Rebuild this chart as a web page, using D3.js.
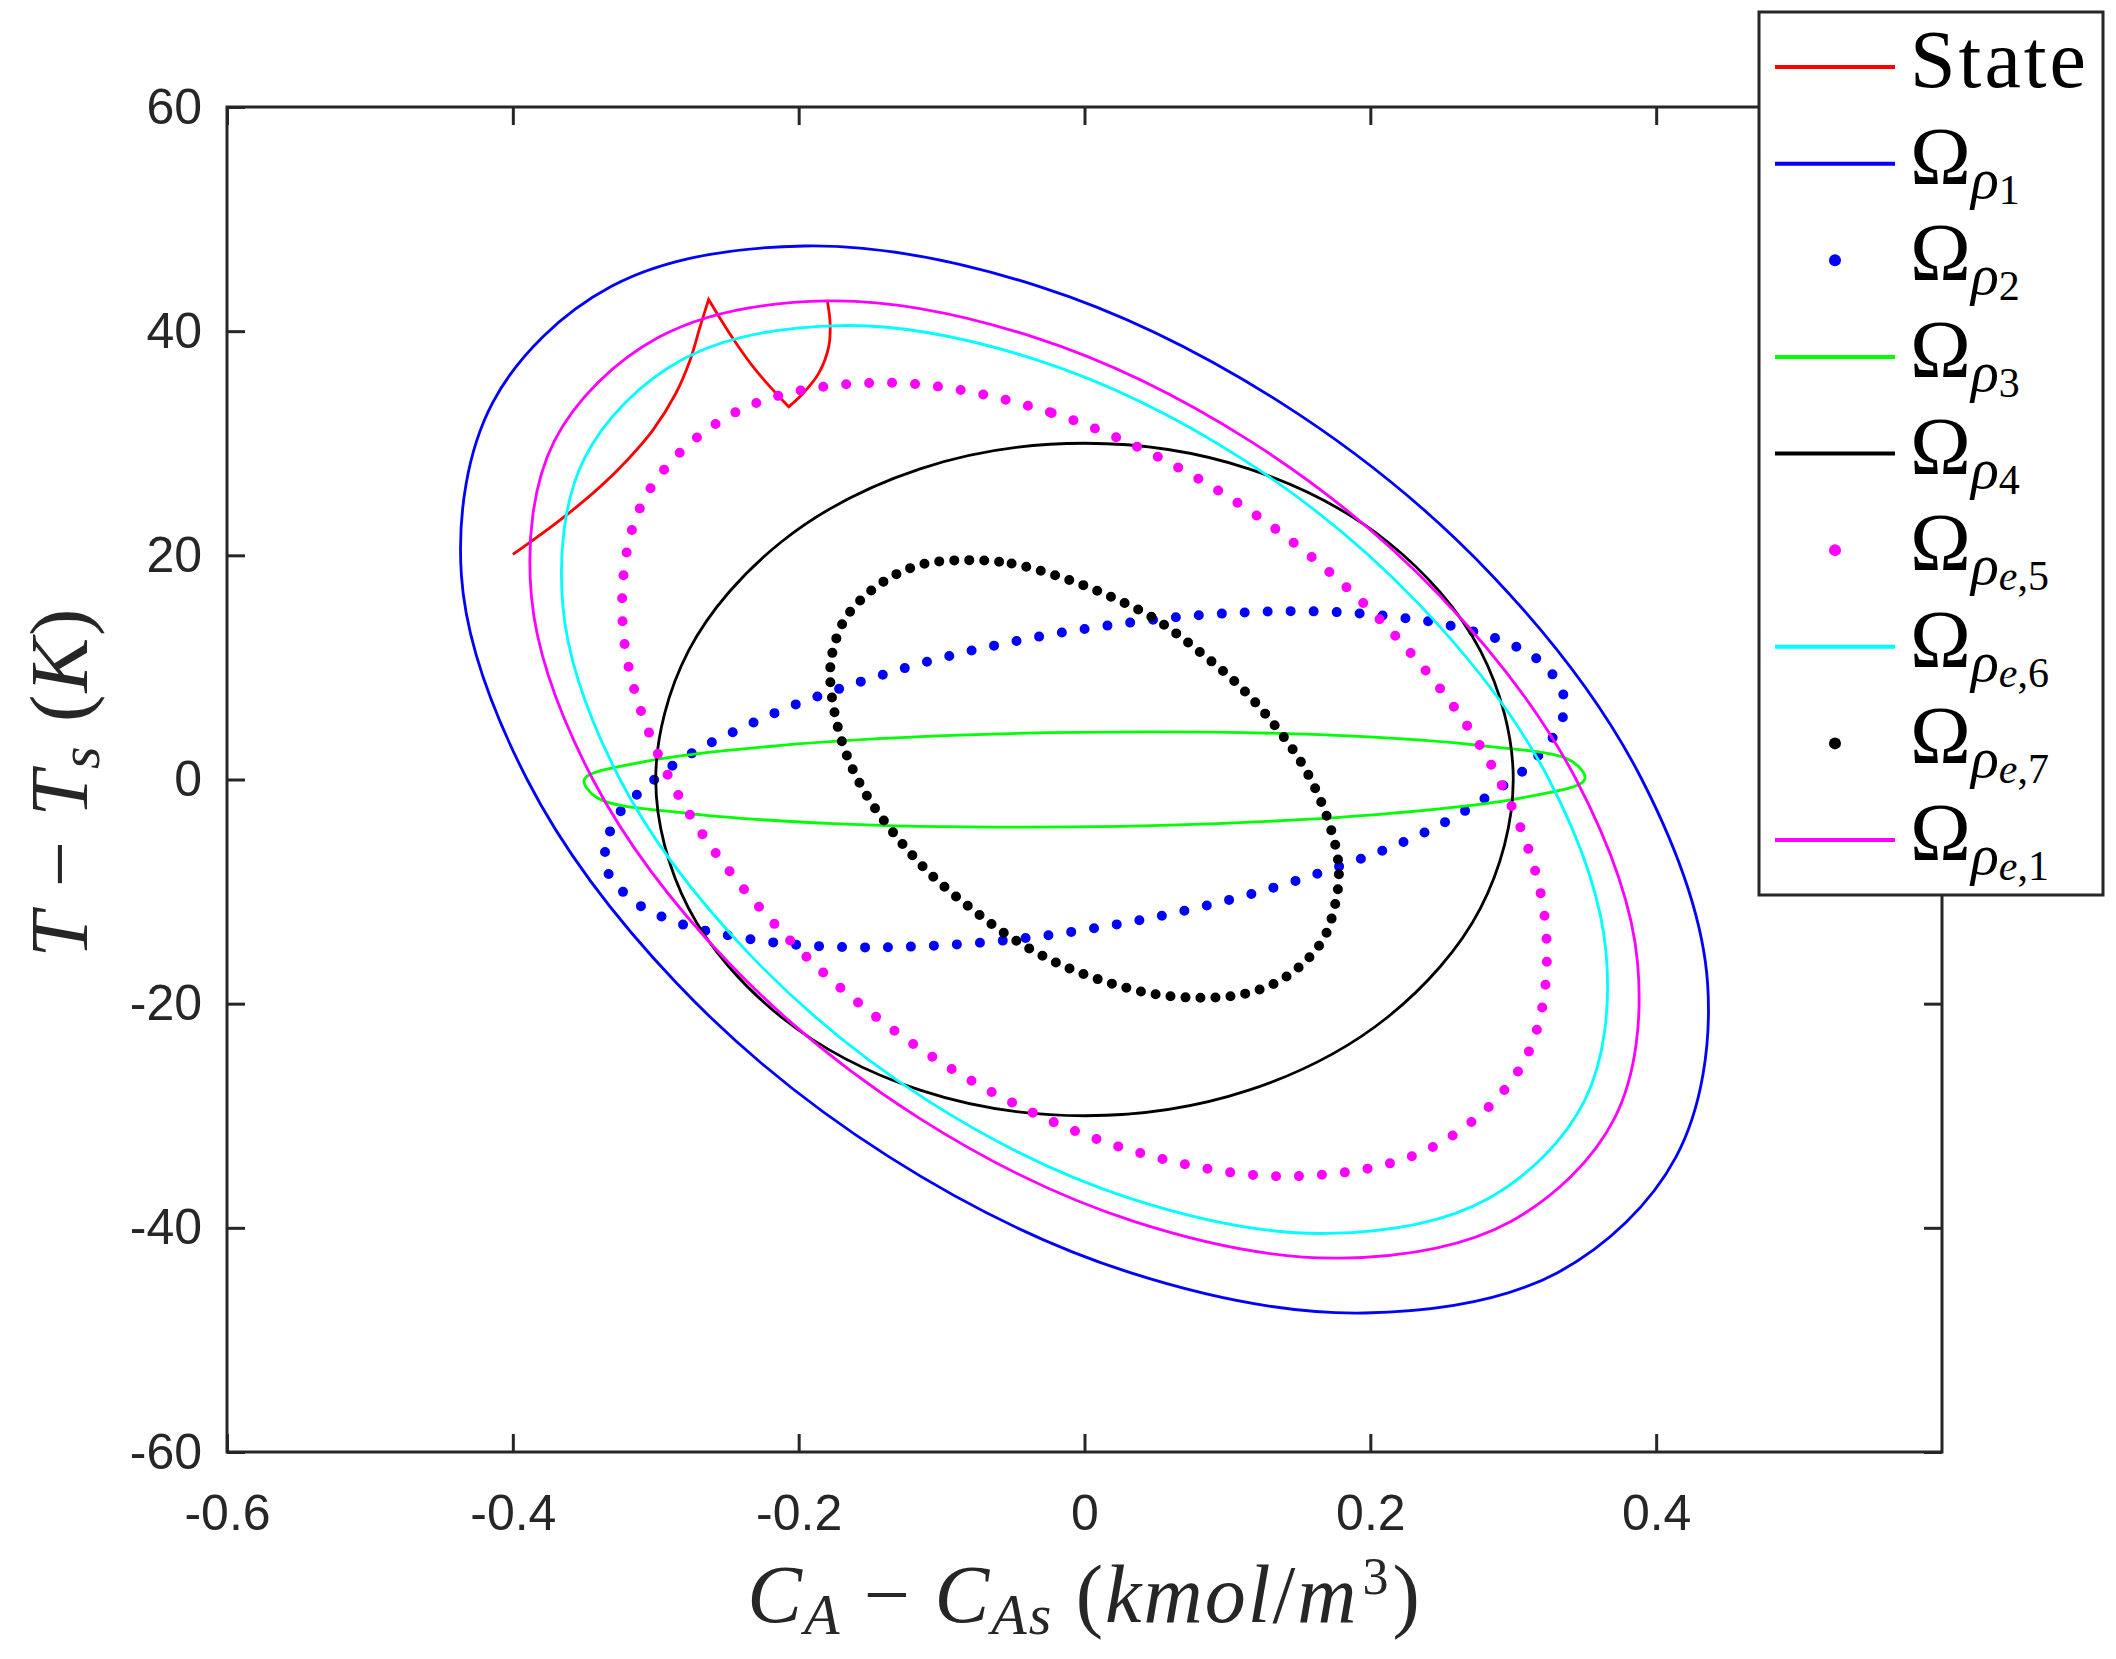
<!DOCTYPE html>
<html>
<head>
<meta charset="utf-8">
<script src="https://cdn.jsdelivr.net/npm/d3@7"></script>
<style>
  body { margin: 0; background: #fff; }
</style>
</head>
<body>
<script>
// Axis ticks
let xTicks = [-0.6, -0.4, -0.2, 0, 0.2, 0.4]
let xTickLabels = ["-0.6", "-0.4", "-0.2", "0", "0.2", "0.4"]
let yTicks = [-60, -40, -20, 0, 20, 40, 60]
let yTickLabels = ["-60", "-40", "-20", "0", "20", "40", "60"]

// State trajectory (C_A - C_As, T - T_s); the peak and the valley are repeated so they stay sharp
let stateTraj = [[-0.400, 20.08], [-0.367, 23.14], [-0.339, 26.11], [-0.320, 28.49], [-0.302, 31.17],
  [-0.286, 34.44], [-0.276, 37.41], [-0.269, 40.38], [-0.263, 42.83], [-0.263, 42.83], [-0.246, 39.35],
  [-0.230, 36.52], [-0.207, 33.25], [-0.207, 33.25], [-0.197, 34.44], [-0.186, 36.23], [-0.179, 38.60],
  [-0.178, 40.69], [-0.180, 42.77]]

// Level set boundaries
let omegaRho1 = [[-0.196, 47.6], [-0.032, 44.0], [0.137, 33.65], [0.285, 18.23], [0.390, 0], [0.436, -18.23],
  [0.414, -33.65], [0.331, -44.0], [0.196, -47.6], [0.032, -44.0], [-0.137, -33.65], [-0.285, -18.23],
  [-0.390, 0], [-0.436, 18.23], [-0.414, 33.65], [-0.331, 44.0]]

let omegaRho2 = [[-0.336, -7.13], [-0.332, -4.63], [-0.324, -2.73], [-0.309, -0.89], [-0.291, 0.99], [-0.268, 2.83],
  [-0.239, 4.64], [-0.208, 6.40], [-0.173, 8.03], [-0.136, 9.55], [-0.096, 10.98], [-0.056, 12.14],
  [-0.014, 13.15], [0.029, 13.95], [0.070, 14.55], [0.111, 14.90], [0.149, 15.02], [0.186, 14.87],
  [0.220, 14.46], [0.249, 13.92], [0.277, 13.03], [0.297, 12.14], [0.314, 11.01], [0.326, 9.61],
  [0.334, 7.97], [0.336, 6.49], [0.332, 4.64], [0.322, 2.83], [0.309, 0.99], [0.289, -0.89],
  [0.266, -2.82], [0.239, -4.66], [0.207, -6.42], [0.172, -8.02], [0.135, -9.54], [0.096, -10.91],
  [0.055, -12.13], [0.013, -13.14], [-0.030, -13.97], [-0.071, -14.54], [-0.112, -14.86], [-0.150, -14.98],
  [-0.187, -14.86], [-0.220, -14.50], [-0.250, -13.88], [-0.276, -13.14], [-0.298, -12.10], [-0.315, -10.91],
  [-0.327, -9.45], [-0.335, -7.93]]

let omegaRho3 = [[0.045, 4.25], [0.176, 3.93], [0.279, 3.00], [0.341, 1.63], [0.350, 0], [0.306, -1.63],
  [0.216, -3.00], [0.093, -3.93], [-0.045, -4.25], [-0.176, -3.93], [-0.279, -3.00], [-0.341, -1.63],
  [-0.350, 0], [-0.306, 1.63], [-0.216, 3.00], [-0.093, 3.93]]

let omegaRho4 = [[0, 30], [0.115, 27.72], [0.212, 21.21], [0.277, 11.49], [0.300, 0], [0.277, -11.49],
  [0.212, -21.21], [0.115, -27.72], [0, -30], [-0.115, -27.72], [-0.212, -21.21], [-0.277, -11.49],
  [-0.300, 0], [-0.277, 11.49], [-0.212, 21.21], [-0.115, 27.72]]

let omegaRhoE5 = [[-0.145, 35.4], [-0.023, 32.71], [0.103, 25.03], [0.212, 13.56], [0.290, 0], [0.323, -13.56],
  [0.308, -25.03], [0.245, -32.71], [0.145, -35.4], [0.023, -32.71], [-0.103, -25.03], [-0.212, -13.56],
  [-0.290, 0], [-0.323, 13.56], [-0.308, 25.03], [-0.245, 32.71]]

let omegaRhoE6 = [[-0.170, 40.5], [-0.033, 37.42], [0.110, 28.63], [0.235, 15.51], [0.325, 0], [0.365, -15.51],
  [0.350, -28.63], [0.282, -37.42], [0.170, -40.5], [0.033, -37.42], [-0.110, -28.63], [-0.235, -15.51],
  [-0.325, 0], [-0.365, 15.51], [-0.350, 28.63], [-0.282, 37.42]]

let omegaRhoE7 = [[-0.081, 19.57], [-0.051, 19.27], [-0.017, 18.08], [0.016, 16.45], [0.050, 14.28], [0.080, 11.45],
  [0.109, 8.27], [0.133, 4.85], [0.153, 1.23], [0.167, -2.43], [0.176, -6.15], [0.178, -8.38],
  [0.176, -10.76], [0.168, -14.03], [0.153, -16.41], [0.133, -18.19], [0.109, -19.20], [0.081, -19.47],
  [0.050, -19.17], [0.017, -18.13], [-0.017, -16.50], [-0.050, -14.21], [-0.080, -11.44], [-0.109, -8.29],
  [-0.133, -4.87], [-0.153, -1.30], [-0.167, 2.38], [-0.175, 6.04], [-0.178, 9.37], [-0.176, 11.54],
  [-0.168, 14.22], [-0.153, 16.45], [-0.133, 18.23], [-0.111, 19.27]]

let omegaRhoE1 = [[-0.180, 42.7], [-0.035, 39.45], [0.116, 30.19], [0.249, 16.35], [0.344, 0], [0.387, -16.35],
  [0.371, -30.19], [0.298, -39.45], [0.180, -42.7], [0.035, -39.45], [-0.116, -30.19], [-0.249, -16.35],
  [-0.344, 0], [-0.387, 16.35], [-0.371, 30.19], [-0.298, 39.45]]

// Legend subscripts (null = plain text label)
let legendSubs = [null, "1", "2", "3", "4", "e,5", "e,6", "e,7", "e,1"]

// Plot order matches legend order
let series = [
  { data: stateTraj, color: "#ff0000", closed: false, dotGap: 0 },
  { data: omegaRho1, color: "#0000ff", closed: true, dotGap: 0 },
  { data: omegaRho2, color: "#0000ff", closed: true, dotGap: 23 },
  { data: omegaRho3, color: "#00ff00", closed: true, dotGap: 0 },
  { data: omegaRho4, color: "#000000", closed: true, dotGap: 0 },
  { data: omegaRhoE5, color: "#ff00ff", closed: true, dotGap: 23 },
  { data: omegaRhoE6, color: "#00ffff", closed: true, dotGap: 0 },
  { data: omegaRhoE7, color: "#000000", closed: true, dotGap: 15 },
  { data: omegaRhoE1, color: "#ff00ff", closed: true, dotGap: 0 }
]

let width = 2116, height = 1659
let plotLeft = 227, plotRight = 1942, plotTop = 107, plotBottom = 1452
let ink = "#262626"
let serif = "Liberation Serif, DejaVu Serif, Times New Roman, serif"

let svg = d3.select("body").append("svg")
  .attr("width", width)
  .attr("height", height)

svg.append("rect").attr("width", width).attr("height", height).attr("fill", "#fff")

let x = d3.scaleLinear().domain([-0.6, 0.6]).range([plotLeft, plotRight])
let y = d3.scaleLinear().domain([-60, 60]).range([plotBottom, plotTop])

function styleAxis(g) {
  g.attr("font-family", "Liberation Sans, Arial, sans-serif").attr("font-size", 50)
  g.select(".domain").remove()
  g.selectAll("line").attr("stroke", ink).attr("stroke-width", 3)
  g.selectAll("text").attr("fill", ink)
}

// ticks point inward on all four sides
svg.append("g").attr("transform", `translate(0,${plotBottom})`)
  .call(d3.axisBottom(x).tickValues(xTicks).tickFormat((d, i) => xTickLabels[i]).tickSize(-18).tickPadding(42))
  .call(styleAxis)
svg.append("g").attr("transform", `translate(0,${plotTop})`)
  .call(d3.axisTop(x).tickValues(xTicks).tickFormat("").tickSize(-18))
  .call(styleAxis)
svg.append("g").attr("transform", `translate(${plotLeft},0)`)
  .call(d3.axisLeft(y).tickValues(yTicks).tickFormat((d, i) => yTickLabels[i]).tickSize(-18).tickPadding(25))
  .call(styleAxis)
svg.append("g").attr("transform", `translate(${plotRight},0)`)
  .call(d3.axisRight(y).tickValues(yTicks).tickFormat("").tickSize(-18))
  .call(styleAxis)

svg.append("rect")
  .attr("x", plotLeft).attr("y", plotTop)
  .attr("width", plotRight - plotLeft).attr("height", plotBottom - plotTop)
  .attr("fill", "none").attr("stroke", ink).attr("stroke-width", 3)

// the curves
series.forEach(s => {
  let line = d3.line()
    .x(d => x(d[0]))
    .y(d => y(d[1]))
    .curve(s.closed ? d3.curveCatmullRomClosed.alpha(0.5) : d3.curveCatmullRom.alpha(0.5))
  let p = svg.append("path")
    .attr("d", line(s.data))
    .attr("fill", "none")
    .attr("stroke", s.color)
  if (s.dotGap) {
    p.attr("stroke-width", 10)
      .attr("stroke-linecap", "round")
      .attr("stroke-dasharray", `0 ${s.dotGap}`)
  } else {
    p.attr("stroke-width", 2.8).attr("stroke-linejoin", "miter")
  }
})

// axis labels
let xl = svg.append("text")
  .attr("x", (plotLeft + plotRight) / 2).attr("y", 1622)
  .attr("text-anchor", "middle")
  .attr("font-family", serif).attr("font-size", 82).attr("fill", ink)
  .attr("letter-spacing", 2)
xl.append("tspan").attr("font-style", "italic").text("C")
xl.append("tspan").attr("font-style", "italic").attr("font-size", 58).attr("dy", 12).text("A")
xl.append("tspan").attr("dy", -12).text(" \u2212 ")
xl.append("tspan").attr("font-style", "italic").text("C")
xl.append("tspan").attr("font-style", "italic").attr("font-size", 58).attr("dy", 12).text("As")
xl.append("tspan").attr("dy", -12).text("  (")
xl.append("tspan").attr("font-style", "italic").text("kmol")
xl.append("tspan").text("/")
xl.append("tspan").attr("font-style", "italic").text("m")
xl.append("tspan").attr("font-size", 52).attr("dx", 4).attr("dy", -28).text("3")
xl.append("tspan").attr("dx", 2).attr("dy", 28).text(")")

let yl = svg.append("text")
  .attr("transform", "translate(87,782) rotate(-90)")
  .attr("text-anchor", "middle")
  .attr("font-family", serif).attr("font-size", 82).attr("fill", ink)
  .attr("letter-spacing", 2)
yl.append("tspan").attr("font-style", "italic").text("T")
yl.append("tspan").text(" \u2212 ")
yl.append("tspan").attr("font-style", "italic").text("T")
yl.append("tspan").attr("font-style", "italic").attr("font-size", 58).attr("dy", 12).text("s")
yl.append("tspan").attr("dy", -12).text("  (")
yl.append("tspan").attr("font-style", "italic").text("K")
yl.append("tspan").text(")")

// legend
let legend = svg.append("g")
legend.append("rect")
  .attr("x", 1759).attr("y", 12).attr("width", 344).attr("height", 883)
  .attr("fill", "#fff").attr("stroke", ink).attr("stroke-width", 3)

let rowY = d3.scaleLinear().domain([0, 8]).range([67, 840])

series.forEach((s, i) => {
  let yy = rowY(i)
  if (s.dotGap) {
    legend.append("circle").attr("cx", 1835).attr("cy", yy).attr("r", 6).attr("fill", s.color)
  } else {
    legend.append("line").attr("x1", 1775).attr("x2", 1895).attr("y1", yy).attr("y2", yy)
      .attr("stroke", s.color).attr("stroke-width", 4)
  }
  let t = legend.append("text")
    .attr("x", 1910).attr("y", yy + 20)
    .attr("font-family", serif).attr("font-size", 82).attr("fill", "#000")
  let sub = legendSubs[i]
  if (sub === null) {
    t.attr("letter-spacing", 3).text("State")
    return
  }
  t.append("tspan").text("\u03A9")
  t.append("tspan").attr("font-style", "italic").attr("font-size", 58).attr("dy", 14).text("\u03C1")
  if (sub.startsWith("e,")) {
    t.append("tspan").attr("font-style", "italic").attr("font-size", 42).attr("dy", 6).text("e")
    t.append("tspan").attr("font-size", 42).text("," + sub.slice(2))
  } else {
    t.append("tspan").attr("font-size", 42).attr("dy", 6).text(sub)
  }
})
</script>
</body>
</html>
